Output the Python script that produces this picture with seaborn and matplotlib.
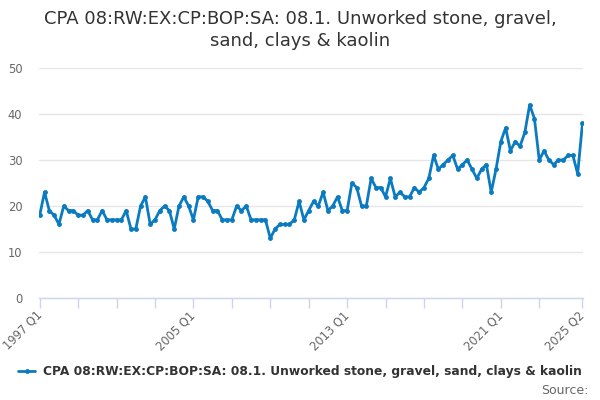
import numpy as np
import pandas as pd
import matplotlib
matplotlib.use("Agg")
import matplotlib.pyplot as plt
import seaborn as sns

# Quarterly values, 1997 Q1 to 2025 Q2
values = [
    18, 23, 19, 18, 16, 20, 19, 19, 18, 18, 19, 17, 17, 19, 17, 17, 17, 17, 19, 15,
    15, 20, 22, 16, 17, 19, 20, 19, 15, 20, 22, 20, 17, 22, 22, 21, 19, 19, 17, 17,
    17, 20, 19, 20, 17, 17, 17, 17, 13, 15, 16, 16, 16, 17, 21, 17, 19, 21, 20, 23,
    19, 20, 22, 19, 19, 25, 24, 20, 20, 26, 24, 24, 22, 26, 22, 23, 22, 22, 24, 23,
    24, 26, 31, 28, 29, 30, 31, 28, 29, 30, 28, 26, 28, 29, 23, 28, 34, 37, 32, 34,
    33, 36, 42, 39, 30, 32, 30, 29, 30, 30, 31, 31, 27, 38,
]
quarters = [f"{1997 + i // 4} Q{i % 4 + 1}" for i in range(len(values))]
label_quarters = ["1997 Q1", "2005 Q1", "2013 Q1", "2021 Q1", "2025 Q2"]
y_ticks = [0, 10, 20, 30, 40, 50]

series_name = "CPA 08:RW:EX:CP:BOP:SA: 08.1. Unworked stone, gravel, sand, clays & kaolin"
title = "CPA 08:RW:EX:CP:BOP:SA: 08.1. Unworked stone, gravel,\nsand, clays & kaolin"

df = pd.DataFrame({"quarter": quarters, "value": values})
df["pos"] = np.arange(len(df))

sns.set_theme(style="white")
plt.rcParams["font.family"] = ["DejaVu Sans"]

blue = "#0b7bc1"
axis_col = "#ccd6eb"
grid_col = "#e6e6e6"
text_col = "#666666"

fig = plt.figure(figsize=(6, 4), dpi=100)
ax = fig.add_axes([0.065, 0.255, 0.907, 0.575])

sns.lineplot(data=df, x="pos", y="value", ax=ax, color=blue, linewidth=2,
             marker="o", markersize=3.5, markeredgewidth=0, label=series_name)

ax.set_xlim(-0.15, len(values) - 1 + 0.15)
ax.set_ylim(0, 50)
ax.set_yticks(y_ticks)
ax.yaxis.grid(True, color=grid_col, linewidth=1)
ax.set_axisbelow(True)

# ticks every 2 years plus the last quarter, labels only on a few
tick_pos = list(range(0, 105, 8)) + [len(values) - 1]
ax.set_xticks(tick_pos)
ax.set_xticklabels([quarters[p] if quarters[p] in label_quarters else "" for p in tick_pos],
                   rotation=45, ha="right", va="center", rotation_mode="anchor")
ax.tick_params(axis="x", bottom=True, length=7, width=1, color=axis_col,
               labelcolor=text_col, labelsize=8.3, pad=4)
ax.tick_params(axis="y", left=False, length=0, labelsize=8.3, labelcolor=text_col, pad=12)

for s in ["top", "right", "left"]:
    ax.spines[s].set_visible(False)
ax.spines["bottom"].set_color(axis_col)
ax.spines["bottom"].set_linewidth(1)
ax.set_xlabel("")
ax.set_ylabel("")

ax.get_legend().remove()
handles, labels = ax.get_legend_handles_labels()
fig.legend(handles, labels, loc="center", bbox_to_anchor=(0.5, 0.07), frameon=False,
           handlelength=1.4, handletextpad=0.6, prop={"weight": "bold", "size": 8.8},
           labelcolor="#333333")

fig.text(0.5, 0.975, title, ha="center", va="top", fontsize=13, color="#333333",
         linespacing=1.3)
fig.text(0.98, 0.025, "Source:", ha="right", va="center", fontsize=9, color=text_col)

fig.savefig("out.png", dpi=100)
